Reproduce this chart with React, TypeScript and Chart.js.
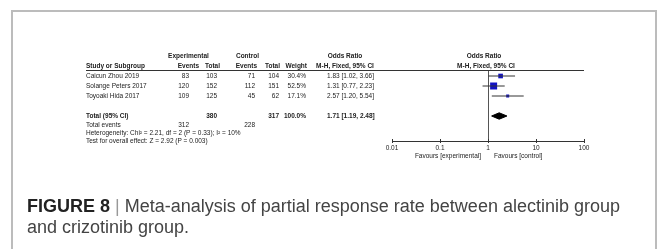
import React, { useEffect, useRef } from "react";
import { Chart, registerables } from "chart.js";

Chart.register(...registerables);

// ---------- data ----------
const studyNames = ["Caicun Zhou 2019", "Solange Peters 2017", "Toyoaki Hida 2017"];
const expEvents = [83, 120, 109];
const expTotal = [103, 152, 125];
const ctrlEvents = [71, 112, 45];
const ctrlTotal = [104, 151, 62];
const weights = [30.4, 52.5, 17.1];
const oddsRatio = [1.83, 1.31, 2.57];
const ciLower = [1.02, 0.77, 1.2];
const ciUpper = [3.66, 2.23, 5.54];

const pooledOR = 1.71;
const pooledLower = 1.19;
const pooledUpper = 2.48;
const totalExpN = 380;
const totalCtrlN = 317;
const totalExpEvents = 312;
const totalCtrlEvents = 228;
const totalWeight = "100.0%";

const heterogeneityText = "Heterogeneity: Chi\u00B2 = 2.21, df = 2 (P = 0.33); I\u00B2 = 10%";
const overallEffectText = "Test for overall effect: Z = 2.92 (P = 0.003)";

const tickValues = [0.01, 0.1, 1, 10, 100];
const tickLabels = ["0.01", "0.1", "1", "10", "100"];
const favoursLeft = "Favours [experimental]";
const favoursRight = "Favours [control]";

// ---------- styling ----------
const FONT = "'Liberation Sans', Arial, Helvetica, sans-serif";
const TEXT = "#222";

const fmt2 = (v: number) => v.toFixed(2);
const orText = (o: number, l: number, h: number) => `${fmt2(o)} [${fmt2(l)}, ${fmt2(h)}]`;

export default function App() {
  const ref = useRef<HTMLCanvasElement>(null);

  useEffect(() => {
    const canvas = ref.current;
    if (!canvas) return;

    const rowOf = (i: number) => i + 1;
    const totalRow = 5;
    const maxW = Math.max(...weights);
    const squareSide = (w: number) => 7 * Math.pow(w / maxW, 0.75);

    const tablePlugin = {
      id: "forestTable",
      afterDraw(chart: any) {
        const ctx: CanvasRenderingContext2D = chart.ctx;
        const ys = chart.scales.y;
        const xs = chart.scales.x;
        const area = chart.chartArea;
        const yp = (v: number) => ys.getPixelForValue(v);
        const x1 = xs.getPixelForValue(1);
        ctx.save();
        ctx.fillStyle = TEXT;
        ctx.textBaseline = "middle";
        const txt = (s: string, x: number, y: number, align: CanvasTextAlign = "left", bold = false) => {
          ctx.font = `${bold ? "bold " : ""}6.5px ${FONT}`;
          ctx.textAlign = align;
          ctx.fillText(s, x, y);
        };

        const colName = 86;
        const colExpEv = 189;
        const colExpTot = 217;
        const colCtlEv = 255;
        const colCtlTot = 279;
        const colWeight = 306;
        const colOR = 327;
        const colORc = 345;

        // header row 1
        const h1 = yp(-1);
        txt("Experimental", 188.5, h1, "center", true);
        txt("Control", 247.5, h1, "center", true);
        txt("Odds Ratio", colORc, h1, "center", true);
        txt("Odds Ratio", x1 - 4, h1, "center", true);
        // header row 2
        const h2 = yp(0);
        txt("Study or Subgroup", colName, h2, "left", true);
        txt("Events", 199, h2, "right", true);
        txt("Total", 220, h2, "right", true);
        txt("Events", 257, h2, "right", true);
        txt("Total", 280, h2, "right", true);
        txt("Weight", 307, h2, "right", true);
        txt("M-H, Fixed, 95% CI", colORc, h2, "center", true);
        txt("M-H, Fixed, 95% CI", x1 - 2, h2, "center", true);

        // underline
        ctx.strokeStyle = "#333";
        ctx.lineWidth = 1;
        ctx.beginPath();
        const uy = Math.round(area.top) - 0.5;
        ctx.moveTo(colName, uy);
        ctx.lineTo(area.right, uy);
        ctx.stroke();

        // tick marks above the axis line
        ctx.beginPath();
        const ay = Math.round(area.bottom);
        tickValues.forEach((v) => {
          const px = Math.round(xs.getPixelForValue(v)) + 0.5;
          ctx.moveTo(px, ay - 2);
          ctx.lineTo(px, ay);
        });
        ctx.stroke();

        // study rows
        studyNames.forEach((name, i) => {
          const y = yp(rowOf(i));
          txt(name, colName, y);
          txt(String(expEvents[i]), colExpEv, y, "right");
          txt(String(expTotal[i]), colExpTot, y, "right");
          txt(String(ctrlEvents[i]), colCtlEv, y, "right");
          txt(String(ctrlTotal[i]), colCtlTot, y, "right");
          txt(`${weights[i].toFixed(1)}%`, colWeight, y, "right");
          txt(orText(oddsRatio[i], ciLower[i], ciUpper[i]), colOR, y);
        });

        // total row
        const ty = yp(totalRow);
        txt("Total (95% CI)", colName, ty, "left", true);
        txt(String(totalExpN), colExpTot, ty, "right", true);
        txt(String(totalCtrlN), colCtlTot, ty, "right", true);
        txt(totalWeight, colWeight, ty, "right", true);
        txt(orText(pooledOR, pooledLower, pooledUpper), colOR, ty, "left", true);

        const ey = yp(5.9);
        txt("Total events", colName, ey);
        txt(String(totalExpEvents), colExpEv, ey, "right");
        txt(String(totalCtrlEvents), colCtlEv, ey, "right");
        txt(heterogeneityText, colName, yp(6.7));
        txt(overallEffectText, colName, yp(7.5));

        // favours
        const fy = yp(9);
        txt(favoursLeft, x1 - 7, fy, "right");
        txt(favoursRight, x1 + 6, fy, "left");
        ctx.restore();
      },
    };

    const ciDatasets = studyNames.map((name, i) => ({
      type: "line" as const,
      label: name,
      data: [
        { x: ciLower[i], y: rowOf(i) },
        { x: ciUpper[i], y: rowOf(i) },
      ],
      borderColor: "#333",
      borderWidth: 1,
      pointRadius: 0,
      fill: false,
      tension: 0,
    }));

    const chart = new Chart(canvas, {
      type: "scatter",
      data: {
        datasets: [
          ...ciDatasets,
          {
            type: "scatter" as const,
            label: "Odds ratio",
            data: oddsRatio.map((v, i) => ({ x: v, y: rowOf(i) })),
            pointStyle: "rect",
            pointRadius: (c: any) => squareSide(weights[c.dataIndex]) / Math.SQRT2,
            backgroundColor: "#1212c4",
            borderColor: "#1212c4",
            borderWidth: 0,
          },
          {
            type: "line" as const,
            label: "Pooled",
            data: [
              { x: pooledLower, y: totalRow },
              { x: pooledOR, y: totalRow - 0.32 },
              { x: pooledUpper, y: totalRow },
              { x: pooledOR, y: totalRow + 0.32 },
              { x: pooledLower, y: totalRow },
            ],
            borderColor: "#000",
            backgroundColor: "#000",
            borderWidth: 1,
            pointRadius: 0,
            fill: "shape",
            tension: 0,
          },
        ] as any,
      },
      options: {
        responsive: false,
        maintainAspectRatio: false,
        animation: false,
        devicePixelRatio: 1,
        layout: { padding: { left: 392, right: 80, top: 71, bottom: 96 } },
        plugins: { legend: { display: false }, tooltip: { enabled: false } },
        scales: {
          x: {
            type: "logarithmic",
            min: 0.01,
            max: 100,
            position: "bottom",
            afterBuildTicks: (s: any) => {
              s.ticks = tickValues.map((v) => ({ value: v }));
            },
            afterFit: (s: any) => {
              s.height = 12;
            },
            border: { display: true, color: "#333", width: 1 },
            grid: {
              display: true,
              drawOnChartArea: true,
              drawTicks: true,
              tickLength: 2,
              tickColor: "#333",
              lineWidth: 1,
              color: (c: any) => (c.tick && c.tick.value === 1 ? "#555" : "rgba(0,0,0,0)"),
            },
            ticks: {
              autoSkip: false,
              maxRotation: 0,
              minRotation: 0,
              padding: 1,
              color: TEXT,
              font: { family: FONT, size: 6.5 },
              callback: (_v: any, i: number) => tickLabels[i],
            },
          },
          y: { type: "linear", display: false, min: 0.5, max: 7.5, reverse: true },
        },
      } as any,
      plugins: [tablePlugin],
    });

    return () => chart.destroy();
  }, []);

  return (
    <div
      style={{
        position: "fixed",
        left: 0,
        top: 0,
        width: 664,
        height: 249,
        overflow: "hidden",
        background: "#fff",
      }}
    >
      <div
        style={{
          position: "absolute",
          left: 11,
          top: 10,
          width: 646,
          height: 239,
          boxSizing: "border-box",
          border: "2px solid #bcbcbc",
          borderBottom: "none",
        }}
      />
      <canvas
        ref={ref}
        width={664}
        height={249}
        style={{ position: "absolute", left: 0, top: 0, width: 664, height: 249 }}
      />
      <div
        style={{
          position: "absolute",
          left: 27,
          top: 196,
          fontFamily: FONT,
          fontSize: 18,
          lineHeight: "21px",
          color: "#444",
          whiteSpace: "nowrap",
        }}
      >
        <span style={{ fontWeight: "bold", color: "#222" }}>FIGURE 8</span>
        <span style={{ color: "#999" }}> | </span>
        Meta-analysis of partial response rate between alectinib group
        <br />
        and crizotinib group.
      </div>
    </div>
  );
}
